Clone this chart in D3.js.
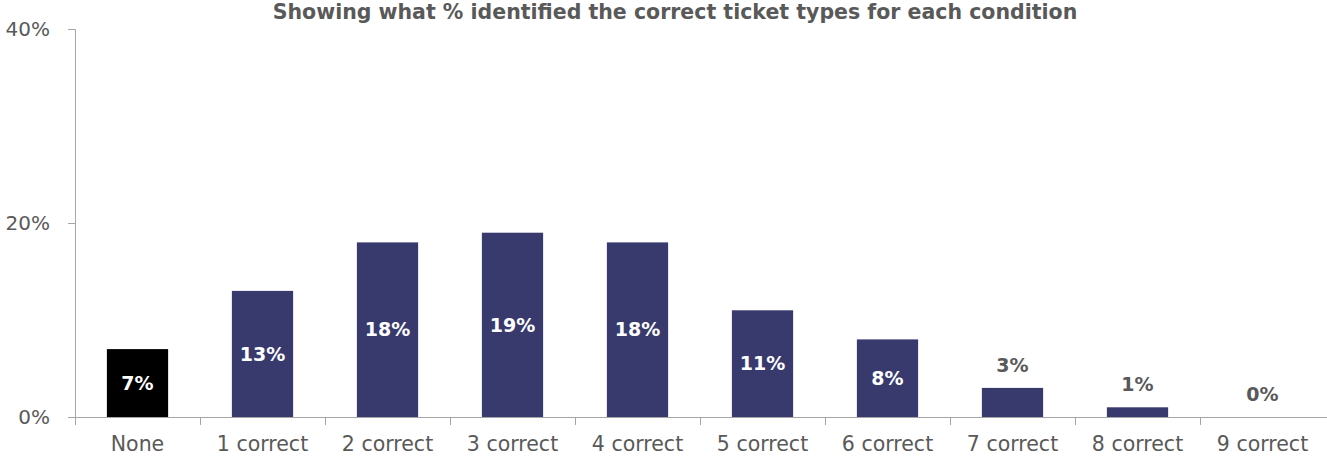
<!DOCTYPE html>
<html><head><meta charset="utf-8">
<script src="https://cdn.jsdelivr.net/npm/d3@7"></script>
<style>body{margin:0;background:#fff;} svg{display:block;font-family:"DejaVu Sans",sans-serif;}</style>
</head><body>
<svg id="c" width="1327" height="457"></svg>
<script>
const categories = ["None","1 correct","2 correct","3 correct","4 correct","5 correct","6 correct","7 correct","8 correct","9 correct"];
const values = [7,13,18,19,18,11,8,3,1,0];
const yTicks = [0,20,40];
const title = "Showing what % identified the correct ticket types for each condition";

const svg = d3.select("#c");
const x = d3.scaleBand().domain(categories).range([75,1325]).paddingInner(0.51).paddingOuter(0.255);
const y = d3.scaleLinear().domain([0,40]).range([417,29]);

svg.append("text").attr("x",675).attr("y",19).attr("text-anchor","middle")
  .attr("font-size",20.5).attr("font-weight","bold").attr("fill","#595959").text(title);

// y axis
const ya = svg.append("g").attr("transform","translate(75,0)")
  .call(d3.axisLeft(y).tickValues(yTicks).tickSize(7).tickFormat(d=>d+"%"));
ya.select(".domain").attr("stroke","#a6a6a6").attr("d","M-7,29.5H0.5V417");
ya.selectAll(".tick line").attr("stroke","#a6a6a6");
ya.selectAll(".tick text").attr("font-size",20).attr("fill","#595959").attr("x",-25)
  .attr("font-family","DejaVu Sans");

// x axis
const xa = svg.append("g").attr("transform","translate(0,417)");
xa.append("line").attr("x1",68).attr("x2",1327).attr("y1",0.5).attr("y2",0.5).attr("stroke","#a6a6a6");
const bounds = categories.map((c,i)=> 75 + i*x.step());
xa.selectAll(".t").data(bounds).join("line").attr("x1",d=>d+0.5).attr("x2",d=>d+0.5)
  .attr("y1",0).attr("y2",8).attr("stroke","#a6a6a6");
xa.selectAll(".lab").data(categories).join("text")
  .attr("x",d=>x(d)+x.bandwidth()/2).attr("y",34).attr("text-anchor","middle")
  .attr("font-size",20.5).attr("fill","#595959").text(d=>d);

// bars
svg.selectAll(".bar").data(values).join("rect")
  .attr("x",(d,i)=>x(categories[i])).attr("width",x.bandwidth())
  .attr("y",d=>y(d)).attr("height",d=>y(0)-y(d))
  .attr("fill",(d,i)=>i===0?"#000000":"#383a6e");

svg.selectAll(".vl").data(values).join("text")
  .attr("x",(d,i)=>x(categories[i])+x.bandwidth()/2)
  .attr("y",d=> d>=5 ? (y(d)+y(0))/2 : y(d)-23)
  .attr("dy","0.35em").attr("text-anchor","middle")
  .attr("font-size",19).attr("font-weight","bold")
  .attr("fill",d=> d>=5 ? "#ffffff" : "#595959").text(d=>d+"%");
</script>
</body></html>
